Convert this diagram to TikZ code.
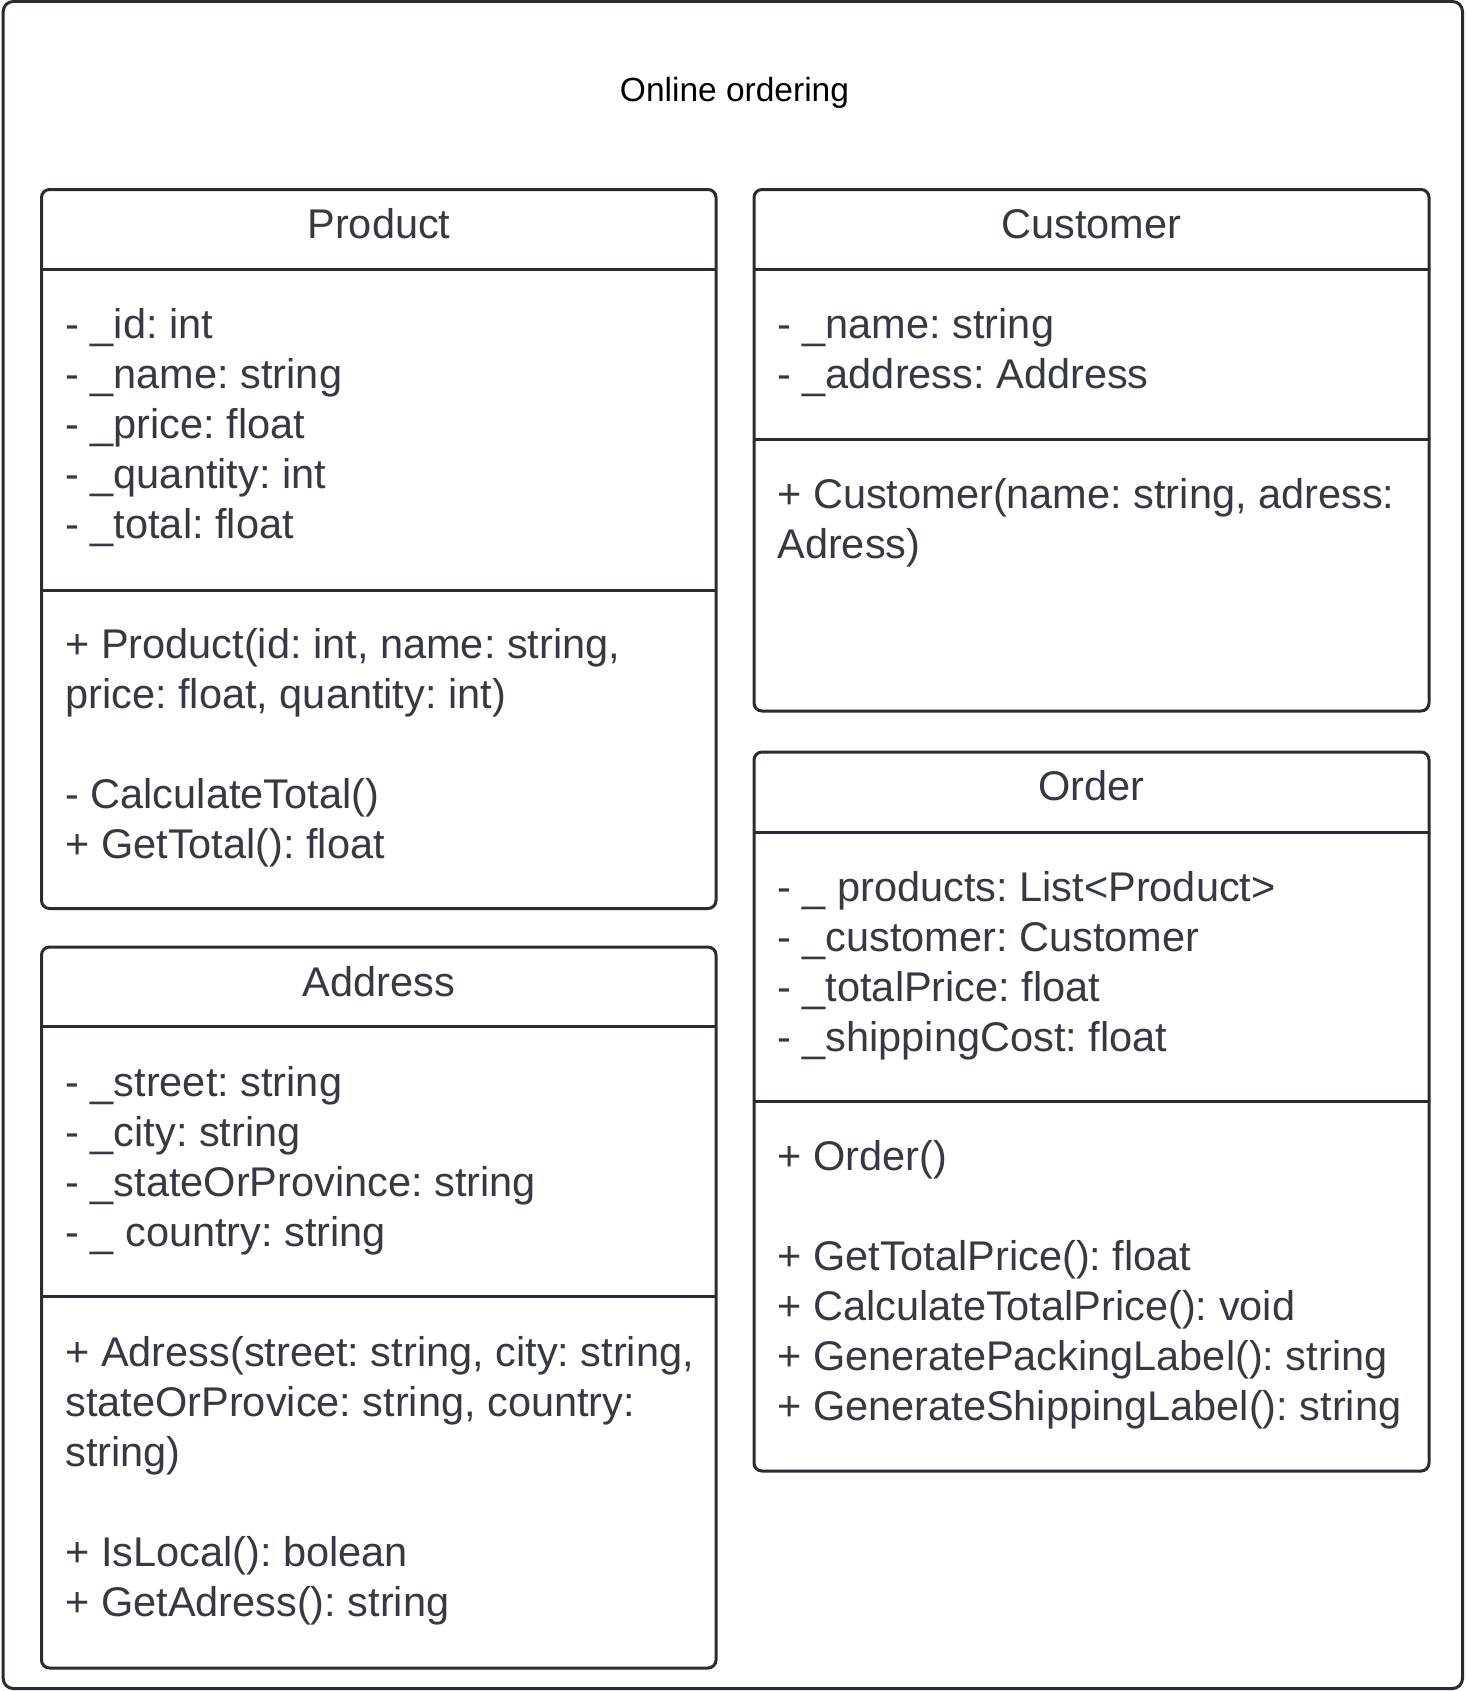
\documentclass[tikz,border=0pt]{standalone}
\usepackage{fontspec}
\setmainfont{Liberation Sans}
\frenchspacing
\definecolor{edge}{HTML}{282C33}
\definecolor{ink}{HTML}{333A44}
\begin{document}
\begin{tikzpicture}[x=0.5pt,y=-0.5pt,
  frame/.style={draw=edge,line width=1.5pt,rounded corners=5pt},
  umlbox/.style={draw=edge,line width=1.5pt,rounded corners=4pt,anchor=north west,inner sep=0pt,outer sep=0pt},
  sep/.style={draw=edge,line width=1.5pt},
  txt/.style={anchor=base west,inner sep=0pt,text=ink,font=\fontsize{20.75pt}{25pt}\selectfont\frenchspacing},
  ttl/.style={anchor=base,inner sep=0pt,text=ink,font=\fontsize{20.75pt}{25pt}\selectfont\frenchspacing},
]
\useasboundingbox (0,0) rectangle (1466,1691);
\fill[white] (0,0) rectangle (1466,1691);
\draw[frame] (3.2,1.5) rectangle (1462.5,1688.5);
\node[anchor=base,inner sep=0pt,text=black,font=\fontsize{16.75pt}{20pt}\selectfont] (title) at (734.5,102) {Online ordering};

% Product
\node[umlbox,minimum width=337.25pt,minimum height=359.5pt] (product) at (41.5,189.5) {};
\draw[sep] (product.west |- 0,269) -- (product.east |- 0,269);
\draw[sep] (product.west |- 0,590) -- (product.east |- 0,590);
\node[ttl] (pt) at (379,238) {Product};
\node[txt] (pa1) at (65,338) {- \_id: int};
\node[txt] (pa2) at (65,388) {- \_name: string};
\node[txt] (pa3) at (65,438) {- \_price: float};
\node[txt] (pa4) at (65,488) {- \_quantity: int};
\node[txt] (pa5) at (65,538) {- \_total: float};
\node[txt] (pm1) at (65,658) {+ Product(id: int, name: string,};
\node[txt] (pm2) at (65,708) {price: float, quantity: int)};
\node[txt] (pm3) at (65,808) {- CalculateTotal()};
\node[txt] (pm4) at (65,858) {+ GetTotal(): float};

% Customer
\node[umlbox,minimum width=337.5pt,minimum height=260.75pt] (customer) at (754,189.5) {};
\draw[sep] (customer.west |- 0,269) -- (customer.east |- 0,269);
\draw[sep] (customer.west |- 0,439) -- (customer.east |- 0,439);
\node[ttl] (ct) at (1091.5,238) {Customer};
\node[txt] (ca1) at (777,338) {- \_name: string};
\node[txt] (ca2) at (777,388) {- \_address: Address};
\node[txt] (cm1) at (777,508) {+ Customer(name: string, adress:};
\node[txt] (cm2) at (777,558) {Adress)};

% Order
\node[umlbox,minimum width=337.5pt,minimum height=359.5pt] (order) at (754,752) {};
\draw[sep] (order.west |- 0,832) -- (order.east |- 0,832);
\draw[sep] (order.west |- 0,1101) -- (order.east |- 0,1101);
\node[ttl] (ot) at (1091.5,800) {Order};
\node[txt] (oa1) at (777,901) {- \_ products: List<Product>};
\node[txt] (oa2) at (777,951) {- \_customer: Customer};
\node[txt] (oa3) at (777,1001) {- \_totalPrice: float};
\node[txt] (oa4) at (777,1051) {- \_shippingCost: float};
\node[txt] (om1) at (777,1170) {+ Order()};
\node[txt] (om2) at (777,1270) {+ GetTotalPrice(): float};
\node[txt] (om3) at (777,1320) {+ CalculateTotalPrice(): void};
\node[txt] (om4) at (777,1370) {+ GeneratePackingLabel(): string};
\node[txt] (om5) at (777,1420) {+ GenerateShippingLabel(): string};

% Address
\node[umlbox,minimum width=337.25pt,minimum height=360.5pt] (address) at (41.5,947) {};
\draw[sep] (address.west |- 0,1026) -- (address.east |- 0,1026);
\draw[sep] (address.west |- 0,1296) -- (address.east |- 0,1296);
\node[ttl] (at) at (379,996) {Address};
\node[txt] (aa1) at (65,1096) {- \_street: string};
\node[txt] (aa2) at (65,1146) {- \_city: string};
\node[txt] (aa3) at (65,1196) {- \_stateOrProvince: string};
\node[txt] (aa4) at (65,1246) {- \_ country: string};
\node[txt] (am1) at (65,1366) {+ Adress(street: string, city: string,};
\node[txt] (am2) at (65,1416) {stateOrProvice: string, country:};
\node[txt] (am3) at (65,1466) {string)};
\node[txt] (am4) at (65,1566) {+ IsLocal(): bolean};
\node[txt] (am5) at (65,1616) {+ GetAdress(): string};
\end{tikzpicture}
\end{document}
